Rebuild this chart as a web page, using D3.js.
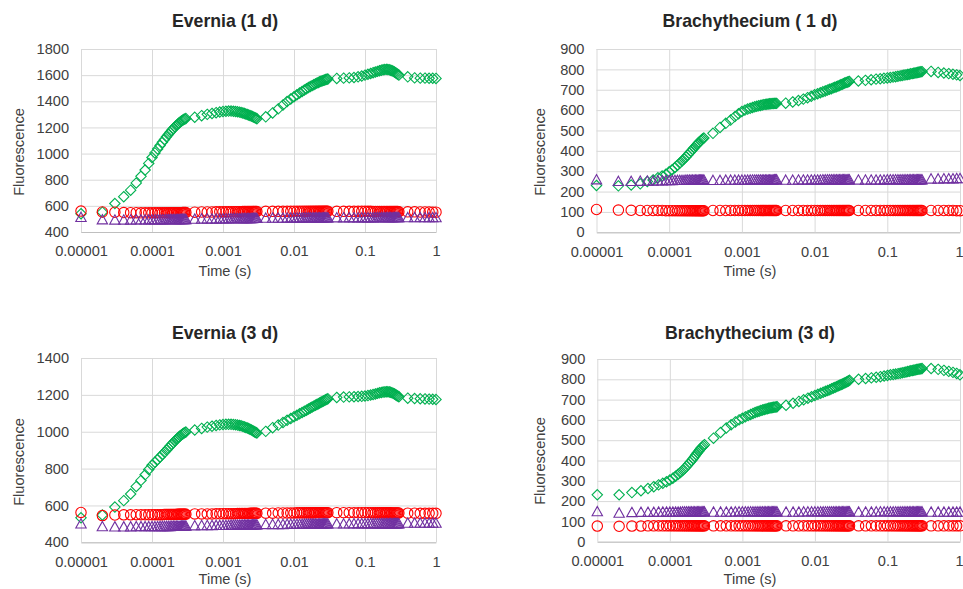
<!DOCTYPE html>
<html>
<head>
<meta charset="utf-8">
<script src="https://cdn.jsdelivr.net/npm/d3@7"></script>
<style>
body { margin: 0; background: #fff; }
svg text { font-family: "Liberation Sans", Arial, sans-serif; }
</style>
</head>
<body>
<script>
// sample times (s), shared by all four panels
const times = [
  0.00001,0.00002,0.00003,0.00004,0.00005,0.00006,0.00007,0.00008,0.00009,0.0001,
  0.00011,0.00012,0.00013,0.00014,0.00015,0.00016,0.00017,0.00018,0.00019,0.0002,
  0.00021,0.00022,0.00023,0.00024,0.00025,0.00026,0.00027,0.00028,0.00029,0.0003,
  0.0004,0.0005,0.0006,0.0007,0.0008,0.0009,0.001,
  0.0011,0.0012,0.0013,0.0014,0.0015,0.0016,0.0017,0.0018,0.0019,0.002,
  0.0021,0.0022,0.0023,0.0024,0.0025,0.0026,0.0027,0.0028,0.0029,0.003,
  0.004,0.005,0.006,0.007,0.008,0.009,0.01,
  0.011,0.012,0.013,0.014,0.015,0.016,0.017,0.018,0.019,0.02,
  0.021,0.022,0.023,0.024,0.025,0.026,0.027,0.028,0.029,0.03,
  0.04,0.05,0.06,0.07,0.08,0.09,0.1,
  0.11,0.12,0.13,0.14,0.15,0.16,0.17,0.18,0.19,0.2,
  0.21,0.22,0.23,0.24,0.25,0.26,0.27,0.28,0.29,0.3,
  0.4,0.5,0.6,0.7,0.8,0.9,1
];

const titles = ["Evernia (1 d)", "Brachythecium ( 1 d)", "Evernia (3 d)", "Brachythecium (3 d)"];
const xTicks = [0.00001, 0.0001, 0.001, 0.01, 0.1, 1];
const xTickLabels = ["0.00001", "0.0001", "0.001", "0.01", "0.1", "1"];
const yTicksEvernia1 = [400, 600, 800, 1000, 1200, 1400, 1600, 1800];
const yTicksEvernia3 = [400, 600, 800, 1000, 1200, 1400];
const yTicksBrachy = [0, 100, 200, 300, 400, 500, 600, 700, 800, 900];

// Evernia (1 d)
const evernia1Green = [
  540,552,618,670,720,775,826,874,925,970, 1005,1035,1062,1086,1108,1128,1146,1163,1178,1192,
  1204,1215,1225,1234,1242,1249,1255,1260,1264,1268,
  1278,1290,1300,1307,1313,1318,1322, 1324,1325,1325,1324,1322,1320,1317,1314,1311,1307,
  1303,1299,1295,1291,1287,1283,1279,1275,1271,1267,
  1281,1311,1342,1372,1398,1418,1435, 1450,1463,1475,1486,1496,1505,1513,1520,1527,1533,
  1539,1544,1549,1553,1557,1560,1563,1566,1568,1570,
  1575,1577,1579,1582,1587,1593,1600, 1607,1613,1619,1624,1629,1634,1638,1641,1643,1644,
  1643,1641,1638,1634,1629,1624,1618,1612,1606,1600,
  1587,1579,1577,1577,1576,1576,1575
];
const evernia1Red = [
  560,553,551,549,548,548,547,547,547,547, 547,547,547,547,547,547,547,548,548,548,
  548,548,548,548,548,548,549,549,549,549,
  552,553,553,553,554,554,554, 554,554,555,555,555,555,555,555,556,556,
  556,556,556,556,557,557,557,557,557,557,
  558,558,558,558,558,558,559, 559,559,559,559,559,559,559,559,559,559,
  559,559,559,559,559,559,559,559,559,559,
  558,558,558,558,558,558,558, 558,558,557,557,557,557,557,557,557,557,
  556,556,556,556,556,556,556,556,556,555,
  554,554,553,553,553,552,552
];
const evernia1Purple = [
  512,494,492,492,492,493,493,493,493,494, 494,494,494,494,494,495,495,495,495,495,
  495,495,495,496,496,496,496,496,496,496,
  499,500,500,500,500,501,501, 501,501,502,502,502,502,502,502,503,503,
  503,503,503,503,503,503,504,504,504,504,
  506,506,506,506,507,507,507, 507,507,507,508,508,508,508,508,508,508,
  508,508,508,508,508,508,508,509,509,509,
  509,509,509,509,509,509,509, 509,509,509,510,510,510,510,510,510,510,
  510,510,510,510,510,510,510,510,510,510,
  510,510,510,510,510,510,510
];

// Brachythecium (1 d)
const brachy1Green = [
  230,228,232,238,249,257,268,276,285,297, 307,318,329,340,350,360,370,380,389,398,
  407,415,423,430,437,443,449,454,459,463,
  486,515,535,551,568,582,593, 600,605,609,613,616,619,621,623,625,627,
  628,629,630,631,631,632,632,633,633,633,
  634,640,647,654,661,668,675, 680,685,690,694,698,702,705,709,712,715,
  718,721,724,727,730,733,735,737,739,741,
  743,746,749,752,754,756,758, 760,762,764,766,768,770,772,773,775,776,
  778,779,781,782,783,785,786,787,788,789,
  790,785,782,779,776,773,770
];
const brachy1Red = [
  112,109,108,107,107,107,107,107,106,106, 106,106,106,106,106,106,106,106,106,106,
  106,106,106,106,106,106,106,106,106,106,
  107,107,107,107,107,107,107, 107,107,107,107,107,107,107,107,107,107,
  107,107,107,107,107,107,107,107,107,107,
  107,107,107,107,107,107,107, 107,107,107,107,107,107,107,107,107,107,
  107,107,107,107,107,107,107,107,107,107,
  107,107,107,107,107,107,107, 107,107,107,107,107,107,107,107,107,107,
  107,107,107,107,107,107,107,107,107,107,
  107,107,107,107,107,106,106
];
const brachy1Purple = [
  258,250,250,251,252,252,253,253,254,254, 254,255,255,255,255,255,256,256,256,256,
  256,256,256,256,257,257,257,257,257,257,
  255,255,256,256,256,256,256, 256,256,257,257,257,257,257,257,257,257,
  257,257,257,257,257,257,257,258,258,258,
  256,256,257,257,257,257,257, 257,257,258,258,258,258,258,258,258,258,
  258,258,258,258,258,258,258,258,258,258,
  257,257,257,257,257,257,258, 258,258,258,258,258,258,258,258,258,258,
  258,258,258,258,258,258,258,258,258,258,
  262,262,263,263,263,264,264
];

// Evernia (3 d)
const evernia3Green = [
  533,548,591,626,662,703,736,766,795,818, 834,849,863,876,888,900,911,922,932,941,
  950,958,965,972,978,983,988,992,995,998,
  1009,1018,1025,1030,1034,1037,1039, 1040,1040,1040,1039,1038,1036,1034,1032,1029,1026,
  1023,1020,1017,1013,1010,1006,1003,999,996,993,
  1002,1022,1036,1050,1062,1072,1081, 1089,1097,1104,1111,1117,1123,1129,1134,1139,1144,
  1148,1152,1156,1160,1164,1167,1170,1173,1176,1179,
  1186,1188,1189,1190,1191,1192,1194, 1196,1199,1202,1205,1208,1211,1213,1215,1216,1217,
  1217,1216,1214,1211,1208,1205,1201,1197,1193,1190,
  1182,1180,1179,1178,1177,1176,1175
];
const evernia3Red = [
  562,545,548,549,549,550,550,550,550,550, 550,550,550,550,551,551,551,551,551,551,
  551,551,552,552,552,552,552,552,552,552,
  554,554,554,554,555,555,555, 555,555,555,555,555,556,556,556,556,556,
  556,556,556,557,557,557,557,557,557,557,
  558,558,559,559,559,559,559, 560,560,560,560,560,560,560,560,560,561,
  561,561,561,561,561,561,561,561,561,561,
  561,561,561,561,561,561,561, 561,561,560,560,560,560,560,560,560,560,
  560,560,560,559,559,559,559,559,559,559,
  558,558,557,557,557,557,557
];
const evernia3Purple = [
  500,485,484,484,484,485,485,485,485,485, 485,485,486,486,486,486,486,486,487,487,
  487,487,487,487,487,488,488,488,488,488,
  490,491,491,491,492,492,492, 492,492,493,493,493,493,493,493,494,494,
  494,494,494,494,494,495,495,495,495,495,
  497,497,497,497,498,498,498, 498,498,498,499,499,499,499,499,499,499,
  499,499,499,500,500,500,500,500,500,500,
  500,500,500,501,501,501,501, 501,501,501,501,501,501,501,501,501,501,
  501,501,501,501,501,501,501,501,501,501,
  504,504,504,504,504,504,504
];

// Brachythecium (3 d)
const brachy3Green = [
  231,231,242,251,262,271,280,288,295,304, 313,322,332,341,351,361,371,381,391,400,
  410,420,429,438,446,454,461,467,473,478,
  510,538,560,576,590,600,608, 615,621,627,632,636,640,643,646,649,651,
  653,655,657,659,660,661,662,663,664,665,
  672,682,691,699,707,714,720, 726,731,736,741,745,749,753,757,761,764,
  768,771,774,777,780,783,786,789,792,795,
  800,804,807,810,813,816,819, 822,824,826,828,830,832,834,836,838,840,
  842,843,845,846,848,849,850,851,852,853,
  853,849,844,839,834,829,822
];
const brachy3Red = [
  77,76,77,77,78,78,78,78,78,78, 78,78,78,78,78,78,78,78,78,78,
  78,78,78,78,78,78,78,78,78,78,
  78,78,78,78,78,78,78, 78,78,78,78,78,78,78,78,78,78,
  78,78,78,78,78,78,78,78,78,78,
  78,78,78,78,78,78,78, 78,78,78,78,78,78,78,78,78,78,
  78,78,78,78,78,78,78,78,78,78,
  78,78,78,78,78,78,78, 78,78,78,78,78,78,78,78,78,78,
  78,78,78,78,78,78,78,78,78,78,
  78,78,78,78,78,78,78
];
const brachy3Purple = [
  148,141,144,145,145,145,146,146,146,146, 146,146,146,146,147,147,147,147,147,147,
  147,147,147,147,147,147,147,147,147,147,
  146,146,146,146,147,147,147, 147,147,147,147,147,147,147,147,147,147,
  147,147,147,147,147,147,147,147,147,147,
  146,146,146,147,147,147,147, 147,147,147,147,147,147,147,147,147,147,
  147,147,147,147,147,147,147,147,147,147,
  146,146,146,147,147,147,147, 147,147,147,147,147,147,147,147,147,147,
  147,147,147,147,147,147,147,147,147,147,
  146,146,146,146,146,146,146
];

const green = "#00b050", purple = "#7030a0", red = "#ff0000";

// marker shapes (Excel style, hollow)
const diamond = { draw(ctx, s) { const r = Math.sqrt(s) / 2; ctx.moveTo(0, -r); ctx.lineTo(r, 0); ctx.lineTo(0, r); ctx.lineTo(-r, 0); ctx.closePath(); } };
const triangle = { draw(ctx, s) { const r = Math.sqrt(s) / 2; ctx.moveTo(0, -r); ctx.lineTo(r, r * 0.8); ctx.lineTo(-r, r * 0.8); ctx.closePath(); } };
const circle = { draw(ctx, s) { const r = Math.sqrt(s) / 2; ctx.moveTo(r, 0); ctx.arc(0, 0, r, 0, 2 * Math.PI); } };

const panels = [
  { title: titles[0], left: 81, right: 436, top: 49, bottom: 232, yDomain: [400, 1800], yTicks: yTicksEvernia1,
    cx: 225, titleY: 27, xLabelY: 276, yLabelX: 24, yLabelY: 152,
    series: [[evernia1Green, diamond, green], [evernia1Red, circle, red], [evernia1Purple, triangle, purple]] },
  { title: titles[1], left: 596.5, right: 960, top: 49, bottom: 232.3, yDomain: [0, 900], yTicks: yTicksBrachy,
    cx: 750, titleY: 27, xLabelY: 276, yLabelX: 545, yLabelY: 152,
    series: [[brachy1Green, diamond, green], [brachy1Red, circle, red], [brachy1Purple, triangle, purple]] },
  { title: titles[2], left: 81, right: 436, top: 358, bottom: 542.3, yDomain: [400, 1400], yTicks: yTicksEvernia3,
    cx: 225, titleY: 339, xLabelY: 584, yLabelX: 24, yLabelY: 462,
    series: [[evernia3Green, diamond, green], [evernia3Red, circle, red], [evernia3Purple, triangle, purple]] },
  { title: titles[3], left: 597.3, right: 960, top: 359, bottom: 541.7, yDomain: [0, 900], yTicks: yTicksBrachy,
    cx: 750, titleY: 339, xLabelY: 584, yLabelX: 545, yLabelY: 461,
    series: [[brachy3Green, diamond, green], [brachy3Red, circle, red], [brachy3Purple, triangle, purple]] }
];

const svg = d3.select("body").append("svg").attr("width", 963).attr("height", 589);

function drawPanel(p) {
  const x = d3.scaleLog().domain([0.00001, 1]).range([p.left, p.right]);
  const y = d3.scaleLinear().domain(p.yDomain).range([p.bottom, p.top]);
  const g = svg.append("g");

  // horizontal gridlines + y tick labels
  const yAxis = g.append("g").attr("transform", `translate(${p.left},0)`)
    .call(d3.axisLeft(y).tickValues(p.yTicks).tickSize(-(p.right - p.left)).tickSizeOuter(0).tickPadding(12).tickFormat(d3.format("d")));
  yAxis.select(".domain").remove();
  yAxis.selectAll(".tick line").attr("stroke", "#d9d9d9");
  yAxis.selectAll(".tick text").attr("font-size", 14.6).attr("fill", "#404040").attr("font-family", "Liberation Sans, Arial, sans-serif");

  // vertical gridlines + x tick labels
  const xAxis = g.append("g").attr("transform", `translate(0,${p.bottom})`)
    .call(d3.axisBottom(x).tickValues(xTicks).tickSize(-(p.bottom - p.top)).tickSizeOuter(0).tickPadding(14)
      .tickFormat((d, i) => xTickLabels[i]));
  xAxis.select(".domain").attr("stroke", "#bfbfbf");
  xAxis.selectAll(".tick line").attr("stroke", "#d9d9d9");
  xAxis.selectAll(".tick text").attr("font-size", 14.6).attr("fill", "#404040").attr("font-family", "Liberation Sans, Arial, sans-serif");
  // last label sits on the page edge: keep it inside the window
  if (p.right > 900) xAxis.selectAll(".tick text").filter(d => d === 1).attr("text-anchor", "end").attr("x", 3);

  // titles
  g.append("text").attr("x", p.cx).attr("y", p.titleY).attr("text-anchor", "middle")
    .attr("font-size", 17.7).attr("font-weight", "bold").attr("fill", "#262626").text(p.title);
  g.append("text").attr("x", p.cx).attr("y", p.xLabelY).attr("text-anchor", "middle")
    .attr("font-size", 14.6).attr("fill", "#404040").text("Time (s)");
  g.append("text").attr("transform", `translate(${p.yLabelX},${p.yLabelY}) rotate(-90)`).attr("text-anchor", "middle")
    .attr("font-size", 14.6).attr("fill", "#404040").text("Fluorescence");

  // markers
  p.series.forEach(([vals, shape, color]) => {
    const sym = d3.symbol().type(shape).size(108);
    g.append("g").selectAll("path").data(times.map((t, i) => [t, vals[i]])).enter().append("path")
      .attr("transform", d => `translate(${x(d[0])},${y(d[1])})`)
      .attr("d", sym)
      .attr("fill", "none").attr("stroke", color).attr("stroke-width", 1.1);
  });
}

panels.forEach(drawPanel);
</script>
</body>
</html>
